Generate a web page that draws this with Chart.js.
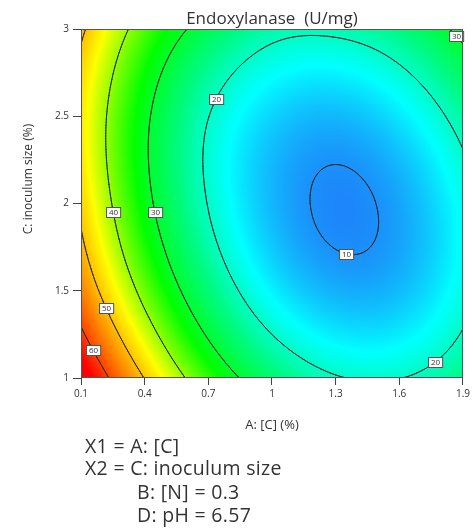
<!DOCTYPE html>
<html lang="en">
<head>
<meta charset="UTF-8">
<title>Endoxylanase (U/mg) contour</title>
<script src="https://cdn.jsdelivr.net/npm/chart.js"></script>
<style>
  body { margin: 0; background: #fff; font-family: 'Open Sans', 'Noto Sans', sans-serif; color: #333; }
  #wrap { position: relative; width: 473px; height: 530px; overflow: hidden; }
  #chart-box { position: absolute; left: 0; top: 0; width: 473px; height: 445px; }
  .note { position: absolute; font-size: 19.5px; line-height: 19px; letter-spacing: 0.3px; white-space: nowrap; color: #333; }
</style>
</head>
<body>
<div id="wrap">
  <div id="chart-box"><canvas id="contour"></canvas></div>
  <div class="note" style="left:85px; top:436px;">X1 = A: [C]</div>
  <div class="note" style="left:85px; top:458px;">X2 = C: inoculum size</div>
  <div class="note" style="left:137px; top:482px;">B: [N] = 0.3</div>
  <div class="note" style="left:137px; top:505px;">D: pH = 6.57</div>
</div>

<script>
// grid nodes of the map (A along x, C along y)
const aNodes = [0.1, 0.4, 0.7, 1.0, 1.3, 1.6, 1.9];
const cNodes = [1, 1.5, 2, 2.5, 3];
// endoxylanase (U/mg) at each node, one row per C value
const endoxylanase = [
  [69.0, 49.8, 35.3, 25.6, 20.4, 19.9, 24.0],
  [55.2, 38.0, 24.8, 15.9, 11.9, 12.5, 18.1],
  [48.7, 31.9, 19.8, 12.3,  9.4, 11.2, 17.6],
  [46.8, 31.2, 20.1, 14.0, 12.3, 15.2, 22.4],
  [51.2, 36.8, 27.3, 21.7, 21.1, 24.3, 32.0]
];
const contourLevels = [10, 20, 30, 40, 50, 60];
const xTickValues = [0.1, 0.4, 0.7, 1, 1.3, 1.6, 1.9];
const yTickValues = [1, 1.5, 2, 2.5, 3];

// where the contour labels sit (level, A, C) - snapped onto the line below
const labelHints = [
  [10, 1.35, 1.75], [20, 0.69, 2.6], [20, 1.77, 1.14], [30, 0.435, 1.95],
  [30, 1.85, 2.96], [40, 0.24, 1.95], [50, 0.21, 1.4], [60, 0.15, 1.16]
];

const FONT = "'Open Sans', 'Noto Sans', sans-serif";
const colorStops = [
  [9, [30, 128, 250]],
  [16.5, [0, 255, 255]],
  [24, [0, 250, 130]],
  [33, [0, 255, 0]],
  [45, [255, 255, 0]],
  [65, [255, 0, 0]]
];

// Catmull-Rom through the nodes, quadratic extension past the edges
function cr(p0, p1, p2, p3, t) {
  return p1 + 0.5 * t * (p2 - p0 + t * (2 * p0 - 5 * p1 + 4 * p2 - p3 + t * (3 * (p1 - p2) + p3 - p0)));
}
function interp1(vals, u) {
  const n = vals.length;
  let i = Math.floor(u);
  if (i < 0) i = 0;
  if (i > n - 2) i = n - 2;
  const t = u - i;
  const at = k => {
    if (k < 0) return 3 * vals[0] - 3 * vals[1] + vals[2];
    if (k > n - 1) return 3 * vals[n - 1] - 3 * vals[n - 2] + vals[n - 3];
    return vals[k];
  };
  return cr(at(i - 1), at(i), at(i + 1), at(i + 2), t);
}
function surface(a, c) {
  const u = (a - aNodes[0]) / (aNodes[1] - aNodes[0]);
  const v = (c - cNodes[0]) / (cNodes[1] - cNodes[0]);
  const col = endoxylanase.map(row => interp1(row, u));
  return interp1(col, v);
}

function colorFor(z) {
  if (z <= colorStops[0][0]) return colorStops[0][1];
  for (let k = 1; k < colorStops.length; k++) {
    if (z <= colorStops[k][0]) {
      const [z0, c0] = colorStops[k - 1];
      const [z1, c1] = colorStops[k];
      const f = (z - z0) / (z1 - z0);
      return [0, 1, 2].map(i => c0[i] + (c1[i] - c0[i]) * f);
    }
  }
  return colorStops[colorStops.length - 1][1];
}

let heatCache = null;

const contourPlugin = {
  id: 'contour',
  beforeDatasetsDraw(chart) {
    const { ctx, chartArea: area, scales: { x, y } } = chart;
    const w = Math.round(area.right - area.left);
    const h = Math.round(area.bottom - area.top);

    // filled colour map
    if (!heatCache || heatCache.width !== w || heatCache.height !== h) {
      heatCache = document.createElement('canvas');
      heatCache.width = w;
      heatCache.height = h;
      const hctx = heatCache.getContext('2d');
      const img = hctx.createImageData(w, h);
      for (let py = 0; py < h; py++) {
        const c = y.getValueForPixel(area.top + py + 0.5);
        for (let px = 0; px < w; px++) {
          const a = x.getValueForPixel(area.left + px + 0.5);
          const col = colorFor(surface(a, c));
          const o = (py * w + px) * 4;
          img.data[o] = col[0];
          img.data[o + 1] = col[1];
          img.data[o + 2] = col[2];
          img.data[o + 3] = 255;
        }
      }
      hctx.putImageData(img, 0, 0);
    }
    ctx.drawImage(heatCache, area.left, area.top);

    // contour lines (marching squares)
    const NX = 260, NY = 220;
    const a0 = x.min, a1 = x.max, c0 = y.min, c1 = y.max;
    const grid = [];
    for (let j = 0; j <= NY; j++) {
      const row = [];
      const c = c0 + (c1 - c0) * j / NY;
      for (let i = 0; i <= NX; i++) row.push(surface(a0 + (a1 - a0) * i / NX, c));
      grid.push(row);
    }
    ctx.save();
    ctx.beginPath();
    ctx.rect(area.left, area.top, w, h);
    ctx.clip();
    ctx.strokeStyle = '#2b2b2b';
    ctx.lineWidth = 1;
    ctx.lineCap = 'round';
    ctx.beginPath();
    for (const L of contourLevels) {
      for (let j = 0; j < NY; j++) {
        for (let i = 0; i < NX; i++) {
          const corners = [
            [i, j, grid[j][i]], [i + 1, j, grid[j][i + 1]],
            [i + 1, j + 1, grid[j + 1][i + 1]], [i, j + 1, grid[j + 1][i]]
          ];
          const pts = [];
          for (let e = 0; e < 4; e++) {
            const p = corners[e], q = corners[(e + 1) % 4];
            if ((p[2] - L) * (q[2] - L) < 0) {
              const f = (L - p[2]) / (q[2] - p[2]);
              const gi = p[0] + (q[0] - p[0]) * f;
              const gj = p[1] + (q[1] - p[1]) * f;
              pts.push([
                x.getPixelForValue(a0 + (a1 - a0) * gi / NX),
                y.getPixelForValue(c0 + (c1 - c0) * gj / NY)
              ]);
            }
          }
          for (let k = 0; k + 1 < pts.length; k += 2) {
            ctx.moveTo(pts[k][0], pts[k][1]);
            ctx.lineTo(pts[k + 1][0], pts[k + 1][1]);
          }
        }
      }
    }
    ctx.stroke();
    ctx.restore();

    // contour labels
    ctx.save();
    ctx.font = '8px ' + FONT;
    ctx.textAlign = 'center';
    ctx.textBaseline = 'middle';
    for (const [L, ha, hc] of labelHints) {
      let best = null;
      const hx = x.getPixelForValue(ha), hy = y.getPixelForValue(hc);
      const tryLine = (fa, fc) => {
        let prev = null;
        for (let s = -0.2; s <= 0.2001; s += 0.002) {
          const a = fa(s), c = fc(s);
          const v = surface(a, c) - L;
          if (prev && prev.v * v < 0) {
            const f = prev.v / (prev.v - v);
            const pa = prev.a + (a - prev.a) * f, pc = prev.c + (c - prev.c) * f;
            const px = x.getPixelForValue(pa), py = y.getPixelForValue(pc);
            const d = Math.hypot(px - hx, py - hy);
            if (!best || d < best.d) best = { d, px, py };
          }
          prev = { a, c, v };
        }
      };
      tryLine(s => ha + s, () => hc);
      tryLine(() => ha, s => hc + s);
      const px = best ? best.px : hx, py = best ? best.py : hy;
      const tw = ctx.measureText(String(L)).width + 5;
      const th = 10;
      const bx = Math.round(px - tw / 2) + 0.5, by = Math.round(py - th / 2) + 0.5;
      ctx.fillStyle = '#fff';
      ctx.fillRect(bx, by, tw, th);
      ctx.strokeStyle = '#555';
      ctx.lineWidth = 1;
      ctx.strokeRect(bx, by, tw, th);
      ctx.fillStyle = '#333';
      ctx.fillText(String(L), bx + tw / 2, by + th / 2 + 0.5);
    }
    ctx.restore();
  },
  afterDraw(chart) {
    const { ctx, chartArea: area } = chart;
    ctx.save();
    ctx.strokeStyle = '#555';
    ctx.lineWidth = 1;
    ctx.strokeRect(area.left + 0.5, area.top + 0.5, area.right - area.left - 1, area.bottom - area.top - 1);

    const cx = (area.left + area.right) / 2;
    ctx.fillStyle = '#333';
    ctx.textAlign = 'center';
    ctx.textBaseline = 'alphabetic';
    ctx.font = '17px ' + FONT;
    ctx.fillText('Endoxylanase  (U/mg)', cx, area.top - 5);

    ctx.textBaseline = 'middle';
    ctx.font = '13px ' + FONT;
    ctx.fillText('A: [C] (%)', cx, area.bottom + 47);

    ctx.translate(29, area.top + 150);
    ctx.rotate(-Math.PI / 2);
    ctx.font = '12px ' + FONT;
    ctx.fillText('C: inoculum size (%)', 0, 0);
    ctx.restore();
  }
};

new Chart(document.getElementById('contour'), {
  type: 'scatter',
  data: { datasets: [{ data: [], pointRadius: 0 }] },
  options: {
    responsive: true,
    maintainAspectRatio: false,
    animation: false,
    layout: { padding: { top: 29, right: 10, left: 0, bottom: 0 } },
    plugins: { legend: { display: false }, tooltip: { enabled: false } },
    scales: {
      x: {
        type: 'linear',
        min: 0.1,
        max: 1.9,
        afterBuildTicks: s => { s.ticks = xTickValues.map(v => ({ value: v })); },
        afterFit: s => { s.height = 67; },
        grid: { drawOnChartArea: false, drawTicks: true, tickLength: 7, color: '#444' },
        border: { display: false },
        ticks: { font: { size: 10, family: FONT }, color: '#333', padding: 3, maxRotation: 0, autoSkip: false,
                 callback: v => String(v) }
      },
      y: {
        type: 'linear',
        min: 1,
        max: 3,
        afterBuildTicks: s => { s.ticks = yTickValues.map(v => ({ value: v })); },
        afterFit: s => { s.width = 81; },
        grid: { drawOnChartArea: false, drawTicks: true, tickLength: 8, color: '#444' },
        border: { display: false },
        ticks: { font: { size: 10, family: FONT }, color: '#333', padding: 4, autoSkip: false,
                 callback: v => String(v) }
      }
    }
  },
  plugins: [contourPlugin]
});
</script>
</body>
</html>
